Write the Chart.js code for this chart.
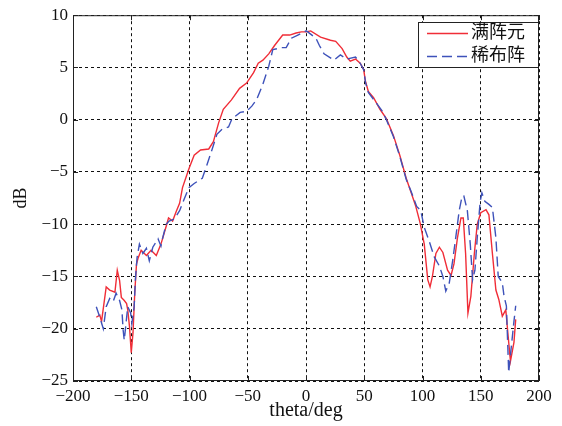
<!DOCTYPE html>
<html>
<head>
<meta charset="utf-8">
<script src="https://cdn.jsdelivr.net/npm/chart.js@4.4.1/dist/chart.umd.min.js"></script>
<style>
  html, body { margin: 0; padding: 0; background: #fff; }
  canvas { display: block; }
</style>
</head>
<body>
<canvas id="myChart" width="562" height="426"></canvas>
<script>
// pattern: full array vs. sparse array
const seriesNames = ['满阵元', '稀布阵'];

const fullTheta = [
  -180, -177, -175.5, -171.5, -168.5, -164, -162, -160, -158.5, -156, -154, -153,
  -151.5, -150, -148.5, -147, -145.5, -144, -141.5, -137, -133, -128.5, -124.5, -120,
  -118, -114.5, -111.5, -108.5, -106, -100.5, -96, -90.5, -83.5, -79.5, -75, -71,
  -64, -57, -51, -45, -41, -37, -32, -27, -20, -14, -8.5, -4,
  0, 4, 12.5, 21, 25.5, 31, 35, 38, 42.5, 46.5, 49.5, 51,
  53.5, 58, 63.5, 69, 75, 80.5, 86, 90, 94, 98, 101.5, 104.5,
  106.5, 108.5, 111.5, 114.5, 117.5, 121.5, 124.5, 127, 130, 133, 135, 137,
  139, 141.5, 144.5, 147, 150, 154.5, 157, 160, 163, 165.5, 168.5, 171.5,
  173.5, 175.5, 178.5, 180
];
const fullDb = [
  -18.9, -18.7, -19.3, -16.0, -16.3, -16.5, -14.4, -15.4, -17.0, -17.3, -17.6, -18.2,
  -19.8, -22.3, -20.4, -16.6, -13.8, -13.2, -12.5, -13.0, -12.5, -13.0, -11.9, -10.2,
  -9.4, -9.7, -8.8, -8.0, -6.5, -4.7, -3.4, -2.9, -2.8, -2.1, -0.3, 1.0,
  1.9, 3.0, 3.5, 4.5, 5.4, 5.7, 6.3, 7.1, 8.1, 8.1, 8.3, 8.4,
  8.4, 8.5, 7.9, 7.6, 7.5, 6.8, 6.0, 5.6, 5.8, 5.4, 4.8, 3.7,
  2.7, 2.1, 1.0, 0.1, -1.5, -3.4, -5.6, -6.9, -8.2, -9.9, -11.9, -15.3,
  -16.0, -15.0, -12.8, -12.2, -12.7, -14.4, -14.9, -13.8, -11.3, -9.4, -9.4, -12.8,
  -18.5, -16.9, -12.8, -10.0, -8.9, -8.6, -9.1, -12.8, -16.3, -17.2, -18.8, -18.2,
  -20.7, -23.1, -21.3, -19.1
];

const sparseTheta = [
  -180, -177, -174, -171.5, -168.5, -165.5, -163, -160, -158, -157, -156, -154.5,
  -153, -150.5, -149.5, -147.5, -146.5, -145, -143, -140, -137, -134.5, -131.5, -127,
  -124.5, -123, -120, -117.5, -113, -108.5, -106, -100.5, -96, -89, -85, -80.5,
  -76.5, -72, -66.5, -63.5, -56.5, -51, -46.5, -42.5, -37, -32, -28.5, -21,
  -17, -12.5, -7, 0, 1.5, 8.5, 11.5, 15.5, 24, 29.5, 35, 42.5,
  46.5, 49.5, 51, 53.5, 59, 65, 69, 75, 80.5, 86, 90, 95,
  98.5, 101.5, 106, 110, 114.5, 117.5, 120, 123, 126, 128.5, 131.5, 134,
  135.5, 138.5, 141, 143, 145, 147, 149.5, 151, 153.5, 157, 160, 163,
  165, 168.5, 170, 172, 174, 175.5, 178.5, 180
];
const sparseDb = [
  -17.9, -18.9, -20.0, -17.9, -17.1, -17.4, -16.6, -17.3, -18.2, -20.1, -21.1, -19.5,
  -17.9, -18.5, -19.5, -17.9, -15.4, -13.2, -11.9, -12.8, -12.3, -13.5, -12.2, -11.4,
  -12.1, -11.3, -10.0, -9.7, -9.5, -8.7, -8.0, -6.5, -6.1, -5.6, -4.3, -2.8,
  -1.4, -0.9, -0.7, 0.1, 0.7, 0.8, 1.3, 1.9, 3.4, 5.1, 6.7, 6.9,
  6.9, 7.8, 8.1, 8.5, 8.4, 7.8, 7.1, 6.3, 5.7, 6.2, 5.8, 6.0,
  5.4, 4.8, 3.6, 2.6, 1.8, 0.9, 0.0, -1.6, -3.5, -5.7, -6.8, -8.3,
  -8.7, -10.3, -11.7, -13.1, -14.0, -15.0, -16.4, -15.6, -13.4, -11.3, -8.7, -7.3,
  -7.3, -8.7, -11.9, -15.3, -14.4, -11.3, -7.8, -7.0, -7.8, -8.1, -8.4, -11.3,
  -15.0, -15.6, -16.9, -17.8, -24.2, -22.5, -19.3, -17.8
];

const xTicks = [-200, -150, -100, -50, 0, 50, 100, 150, 200];
const yTicks = [-25, -20, -15, -10, -5, 0, 5, 10];

const serif = '"Liberation Serif", "Times New Roman", serif';
const legendFont = '18px "Liberation Serif", "Noto Sans CJK SC", serif';
const redColor = 'rgb(240, 45, 55)';
const blueColor = 'rgb(62, 82, 186)';

function toPoints(xs, ys) {
  return xs.map((x, i) => ({ x: x, y: ys[i] }));
}

function fmt(v) {
  return v < 0 ? '\u2212' + Math.abs(v) : String(v);
}

// solid box round the axes, with short inward ticks on all four sides
const boxPlugin = {
  id: 'box',
  afterDatasetsDraw(chart) {
    const { ctx, chartArea: a, scales } = chart;
    ctx.save();
    ctx.strokeStyle = '#222';
    ctx.lineWidth = 1;
    ctx.setLineDash([]);
    ctx.strokeRect(a.left + 0.5, a.top + 0.5, a.right - a.left - 1, a.bottom - a.top - 1);
    ctx.beginPath();
    xTicks.forEach(v => {
      const px = Math.round(scales.x.getPixelForValue(v)) + 0.5;
      ctx.moveTo(px, a.bottom); ctx.lineTo(px, a.bottom - 5);
      ctx.moveTo(px, a.top); ctx.lineTo(px, a.top + 5);
    });
    yTicks.forEach(v => {
      const py = Math.round(scales.y.getPixelForValue(v)) + 0.5;
      ctx.moveTo(a.left, py); ctx.lineTo(a.left + 5, py);
      ctx.moveTo(a.right, py); ctx.lineTo(a.right - 5, py);
    });
    ctx.stroke();
    ctx.restore();
  }
};

// legend box in the upper right corner of the axes
const legendBoxPlugin = {
  id: 'legendBox',
  afterDraw(chart) {
    const { ctx, chartArea: a } = chart;
    const w = 121, h = 46;
    const x0 = a.right - w, y0 = 22;
    ctx.save();
    ctx.fillStyle = '#fff';
    ctx.fillRect(x0, y0, w, h);
    ctx.strokeStyle = '#222';
    ctx.lineWidth = 1;
    ctx.strokeRect(x0 + 0.5, y0 + 0.5, w - 1, h - 1);
    chart.data.datasets.forEach((ds, i) => {
      const y = y0 + 11.5 + i * 23;
      ctx.strokeStyle = ds.borderColor;
      ctx.lineWidth = ds.borderWidth;
      ctx.setLineDash(ds.borderDash || []);
      ctx.beginPath();
      ctx.moveTo(x0 + 9, y);
      ctx.lineTo(x0 + 50, y);
      ctx.stroke();
      ctx.setLineDash([]);
      ctx.fillStyle = '#111';
      ctx.font = legendFont;
      ctx.textBaseline = 'middle';
      ctx.textAlign = 'left';
      ctx.fillText(ds.label, x0 + 53, y);
    });
    ctx.restore();
  }
};

const ctx = document.getElementById('myChart').getContext('2d');
const chart = new Chart(ctx, {
  type: 'line',
  data: {
    datasets: [
      {
        label: seriesNames[0],
        data: toPoints(fullTheta, fullDb),
        borderColor: redColor,
        borderWidth: 1.4,
        pointRadius: 0,
        tension: 0,
        fill: false,
        order: 1
      },
      {
        label: seriesNames[1],
        data: toPoints(sparseTheta, sparseDb),
        borderColor: blueColor,
        borderWidth: 1.4,
        borderDash: [10, 5],
        pointRadius: 0,
        tension: 0,
        fill: false,
        order: 0
      }
    ]
  },
  options: {
    responsive: false,
    animation: false,
    layout: { padding: { top: 13, right: 23, left: 0, bottom: 0 } },
    plugins: {
      legend: { display: false },
      tooltip: { enabled: false }
    },
    scales: {
      x: {
        type: 'linear',
        min: -200,
        max: 200,
        afterBuildTicks: s => { s.ticks = xTicks.map(v => ({ value: v })); },
        afterFit: s => { s.height = 45; },
        grid: { color: '#111', lineWidth: 1, drawTicks: false },
        border: { display: false, dash: [3, 3] },
        ticks: {
          autoSkip: false,
          maxRotation: 0,
          padding: 5,
          color: '#111',
          font: { family: serif, size: 17 },
          callback: v => fmt(v)
        },
        title: {
          display: true,
          text: 'theta/deg',
          color: '#111',
          font: { family: serif, size: 20 },
          padding: { top: 0, bottom: 3 }
        }
      },
      y: {
        type: 'linear',
        min: -25,
        max: 10,
        afterBuildTicks: s => { s.ticks = yTicks.map(v => ({ value: v })); },
        afterFit: s => { s.width = 73; },
        grid: { color: '#111', lineWidth: 1, drawTicks: false },
        border: { display: false, dash: [3, 3] },
        ticks: {
          padding: 5,
          color: '#111',
          font: { family: serif, size: 17 },
          callback: v => fmt(v)
        },
        title: {
          display: true,
          text: 'dB',
          color: '#111',
          font: { family: serif, size: 18 },
          padding: { top: 10, bottom: 0 }
        }
      }
    }
  },
  plugins: [boxPlugin, legendBoxPlugin]
});
</script>
</body>
</html>
